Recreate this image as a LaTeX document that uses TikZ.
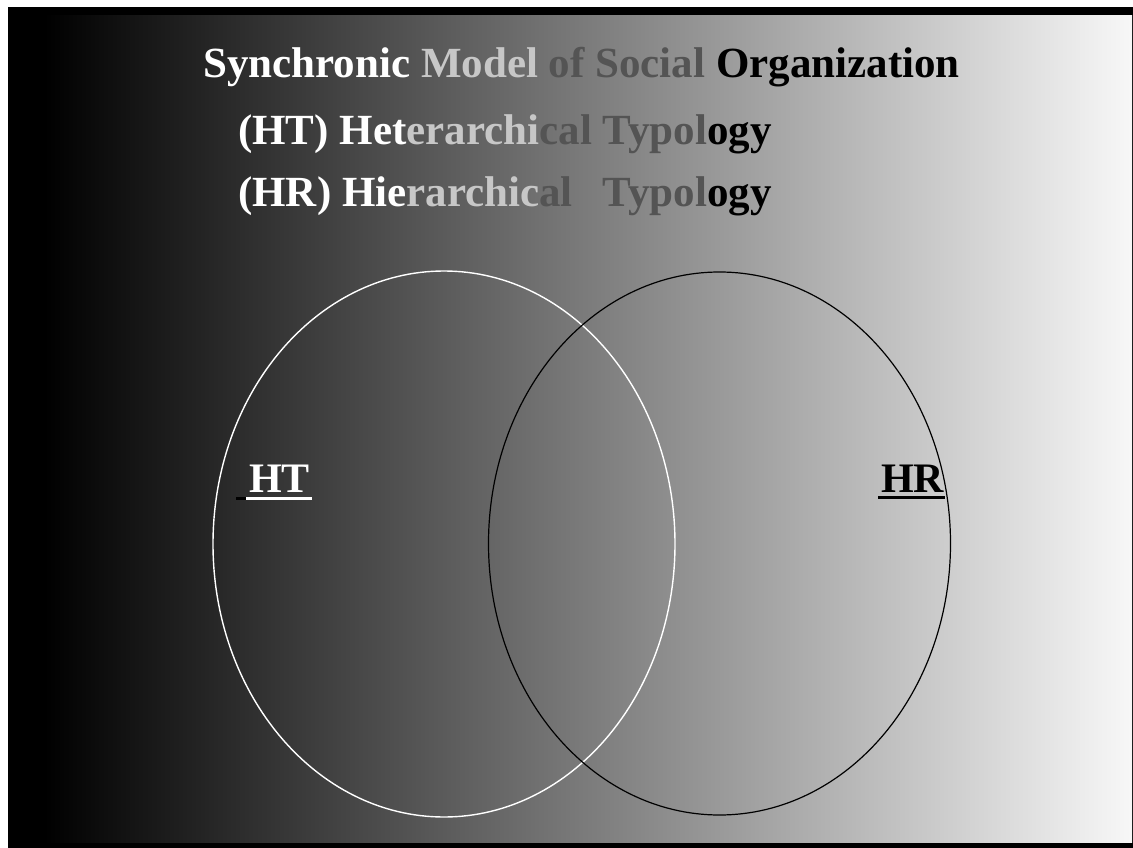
\documentclass[tikz,border=0pt]{standalone}
\usepackage{fontspec}
\setmainfont{Liberation Serif}
\usetikzlibrary{shapes.geometric}
\definecolor{lightword}{gray}{0.78}
\definecolor{darkword}{gray}{0.33}
\pgfdeclarehorizontalshading{slidebg}{100bp}{color(0bp)=(black); color(26.6bp)=(black); color(75bp)=(white!97!black); color(100bp)=(white!97!black)}
\begin{document}
\begin{tikzpicture}[x=1pt,y=-1pt,
  headline/.style={anchor=base west, inner sep=0pt, font=\fontsize{43}{50}\selectfont\bfseries},
  setlabel/.style={anchor=base west, inner sep=0pt, font=\fontsize{42}{48}\selectfont\bfseries},
  setoval/.style={ellipse, inner sep=0pt, minimum width=462pt, minimum height=546pt},
  underbar/.style={line width=3pt}]
\useasboundingbox (0,0) rectangle (1133,848);
% slide frame and horizontal black-to-white background
\fill[white] (0,0) rectangle (1133,848);
\fill[black] (8,7) rectangle (1133,848);
\shade[shading=slidebg] (8,16) rectangle (1132,842);

% heading
\node[headline] (title) at (203,78) {\textcolor{white}{Synchronic} \textcolor{lightword}{Model} \textcolor{darkword}{of Social} Organization};
\node[headline] (htline) at (238,145) {\textcolor{white}{(HT) Het}\textcolor{lightword}{erarchi}\textcolor{darkword}{cal Typol}ogy};
\node[headline] (hrline) at (238,206) {\rlap{\textcolor{white}{(HR) Hie}\textcolor{lightword}{rarchic}\textcolor{darkword}{al}}\phantom{(HT) Heterarchical }\textcolor{darkword}{Typol}ogy};

% the two overlapping sets
\node[setoval, draw=white, line width=1.4pt] (htset) at (444,544) {};
\node[setoval, draw=black, line width=1.2pt, minimum height=543pt] (hrset) at (719.5,543.5) {};

% set labels
\node[setlabel, text=white] (ht) at (249,492) {HT};
\draw[underbar, white] ([xshift=-3pt,yshift=-6pt]ht.base west) -- ([xshift=2pt,yshift=-6pt]ht.base east);
\draw[underbar, black] ([xshift=-13pt,yshift=-6pt]ht.base west) -- ([xshift=-3pt,yshift=-6pt]ht.base west);
\node[setlabel, text=black] (hr) at (881,492) {HR};
\draw[underbar, black] ([xshift=-3pt,yshift=-5pt]hr.base west) -- ([xshift=1pt,yshift=-5pt]hr.base east);
\end{tikzpicture}
\end{document}
